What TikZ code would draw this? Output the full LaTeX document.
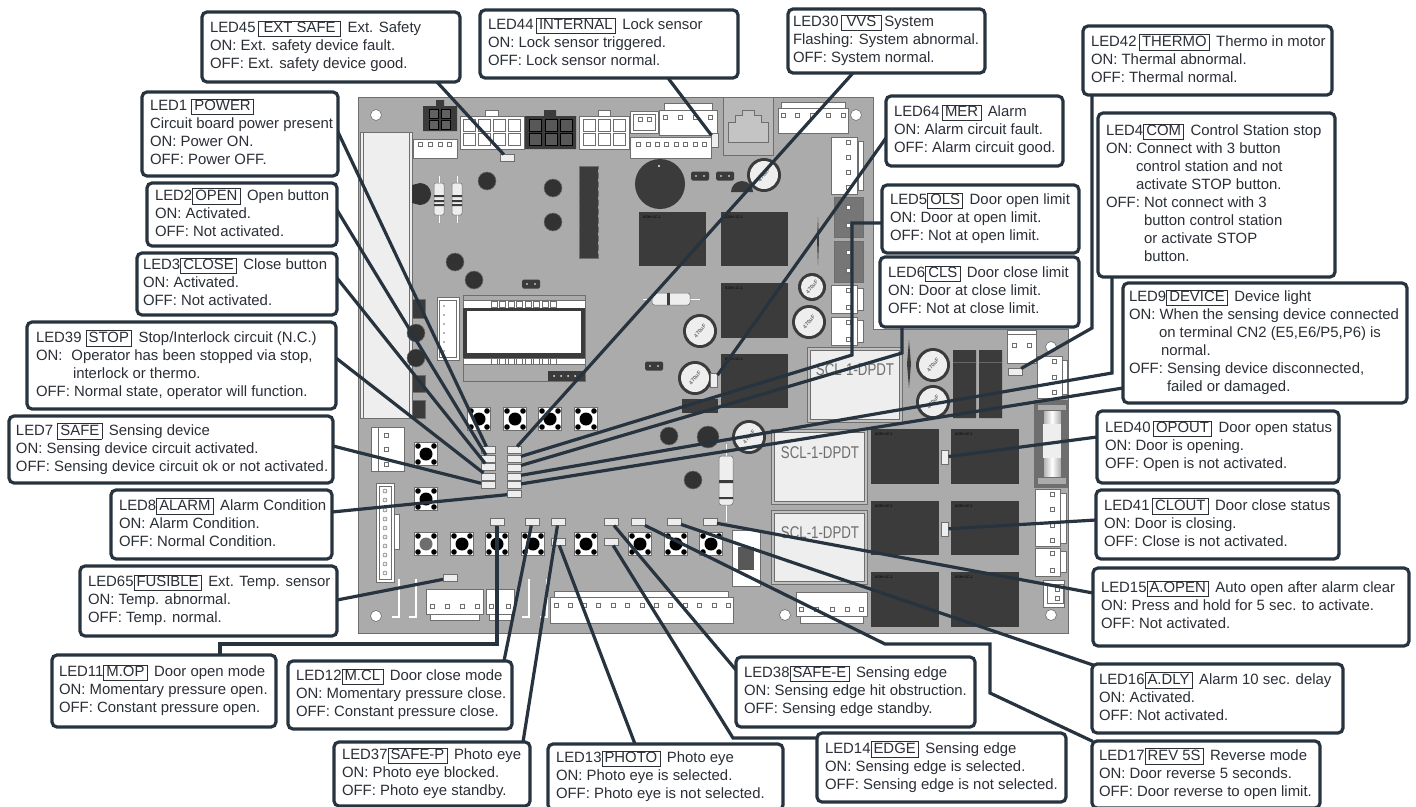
\documentclass[tikz,border=0pt]{standalone}
\usepackage{fontspec}
\setmainfont{Liberation Sans}
\definecolor{lead}{HTML}{27333F}
\definecolor{txt}{HTML}{2B2F36}
\definecolor{board}{HTML}{ABABAB}
\definecolor{dark}{HTML}{3B3B3B}
\definecolor{edge}{HTML}{6E6E6E}
\definecolor{pale}{HTML}{EEEEEE}
\newcommand{\tg}[1]{{\fboxsep=0pt\fboxrule=.6pt\smash{\fbox{\rule[-3.6pt]{0pt}{15pt}\hspace{2.4pt}#1\hspace{2.4pt}}}}}
\newcommand{\callout}[7][8]{%
  \pgfmathsetmacro{\cw}{#5-#3}\pgfmathsetmacro{\ch}{#6-#4}\pgfmathsetmacro{\tw}{#5-#3-2*#1}%
  \node[callbox,minimum width=\cw pt,minimum height=\ch pt,inner xsep=#1 pt,anchor=north west] (#2) at (#3,#4)
    {\makebox[\tw pt][l]{\begin{tabular}{@{}l@{}}#7\end{tabular}}};}
\newcommand{\boxr}[5][white]{\path[draw=edge,line width=.6pt,fill=#1] (#2,#3) rectangle (#4,#5);}
\newcommand{\pin}[2]{\path[draw=edge,line width=.6pt,fill=white] (#1-1.8,#2-1.8) rectangle (#1+1.8,#2+1.8);}
\newcommand{\relay}[4]{\path[fill=dark] (#1,#2) rectangle (#3,#4); \node[font=\fontsize{3.6}{4}\selectfont,text=black,anchor=north west,inner sep=0pt] at (#1+4,#2+4) {833H-1C-1};}
\newcommand{\btn}[3][black]{\path[draw=edge,line width=.6pt,fill=white] (#2-11.5,#3-11.5) rectangle (#2+11.5,#3+11.5);
  \fill[#1] (#2,#3) circle (6.5); \fill[black] (#2-8,#3-8) circle (2.8) (#2+8,#3-8) circle (2.8) (#2-8,#3+8) circle (2.8) (#2+8,#3+8) circle (2.8);}
\newcommand{\cpt}[3]{\path[fill=dark] (#1,#2) circle (#3); \path[fill=pale] (#1,#2) circle (#3-3); \node[rotate=50,font=\bfseries\fontsize{5.5}{6}\selectfont,text=edge,inner sep=0pt] at (#1,#2) {470uF};}
\newcommand{\ind}[3]{\path[draw=edge,line width=.5pt,fill=dark!85!black] (#1,#2) circle (#3);}
\newcommand{\jump}[2]{\path[fill=dark,rounded corners=1.5pt] (#1-9,#2-4.5) rectangle (#1+9,#2+4.5); \fill[white] (#1-4,#2) circle (.8) (#1+4,#2) circle (.8);}
\newcommand{\hole}[2]{\path[draw=edge,line width=.6pt,fill=white] (#1,#2) circle (5.5);}
\newcommand{\resv}[3]{\path[draw=edge!60,fill=white,line width=.4pt] (#1-.8,#2) rectangle (#1+.8,#3);
  \path[draw=edge,fill=pale,line width=.5pt,rounded corners=2pt] (#1-5,#2+8) rectangle (#1+5,#3-8);
  \fill[dark] (#1-5,#2+20) rectangle (#1+5,#2+22) (#1-5,#2+25) rectangle (#1+5,#2+27) (#1-5,#2+29) rectangle (#1+5,#2+31);}
\tikzset{
  callbox/.style={draw=lead,line width=3.2pt,rounded corners=5pt,fill=white,text=txt,inner ysep=0pt,outer sep=0pt,
    font=\fontsize{14.9}{18}\selectfont},
  leadline/.style={draw=lead,line width=3.2pt,line join=miter,shorten <=-1pt},
  ledh/.style={draw=edge,line width=.8pt,fill=pale,minimum width=14pt,minimum height=7pt,inner sep=0pt,outer sep=0pt},
  ledv/.style={draw=edge,line width=.8pt,fill=pale,minimum width=7pt,minimum height=14pt,inner sep=0pt,outer sep=0pt},
  scltext/.style={font=\fontsize{17}{18}\selectfont,text=edge,inner sep=0pt,xscale=.78},
}
\begin{document}
\begin{tikzpicture}[x=1pt,y=-1pt]
\useasboundingbox (0,0) rectangle (1416,806);
\clip (0,0) rectangle (1416,806);
% ---------- board
\path[fill=board,draw=edge,line width=.8pt] (358,97) -- (873,97) -- (873,329) -- (1068,329) -- (1068,633) -- (358,633) -- cycle;
\hole{376}{115}\hole{856}{115}\hole{376}{616}\hole{785}{615}\hole{1051}{615}\hole{1051}{347}
% heatsink strip
\boxr[pale]{360}{132}{412}{418}
\draw[edge,line width=.4pt] (363,132) -- (363,418) (409,132) -- (409,418);
% top connectors
\path[fill=dark] (423,106) rectangle (457,131) (436,100) rectangle (444,106);
\foreach \x in {429,441} \foreach \y in {109,120} {\path[draw=black,fill=dark!80,line width=.4pt] (\x,\y) rectangle (\x+9,\y+9);}
\boxr{460}{116}{524}{149}
\foreach \x in {463,478,493,508} \foreach \y in {119,133} {\boxr{\x}{\y}{\x+12}{\y+12}}
\boxr{485}{110}{498}{116}
\path[fill=dark] (525,116) rectangle (576,149) (544,110) rectangle (556,116);
\foreach \x in {529,545,560} \foreach \y in {119,133} {\path[draw=black,fill=dark!85,line width=.4pt] (\x,\y) rectangle (\x+12,\y+12);}
\boxr{579}{116}{629}{149}
\foreach \x in {583,598,613} \foreach \y in {119,133} {\boxr{\x}{\y}{\x+12}{\y+12}}
\boxr{598}{110}{610}{116}
\boxr{630}{111}{658}{133}\boxr{633}{114}{655}{130}\pin{640}{119}\pin{649}{119}
\boxr{664}{103}{712}{110}
\boxr{659}{110}{717}{135}\foreach \x in {665,680,695,710} {\pin{\x}{117}}
\boxr{630}{137}{711}{158}\foreach \x in {638,648,657,666,676,685,695,704} {\pin{\x}{144}}
\boxr[board!85]{723}{97}{773}{155}
\path[draw=edge,line width=.7pt,fill=board!70] (728,142) -- (728,122) -- (735,122) -- (735,115) -- (742,115) -- (742,110) -- (754,110) -- (754,115) -- (761,115) -- (761,122) -- (768,122) -- (768,142) -- cycle;
\boxr{781}{102}{845}{108}
\boxr{778}{108}{848}{133}\foreach \x in {783,797,812,828,843} {\pin{\x}{115}}
\boxr{858}{141}{863}{190}\boxr{831}{137}{857}{194}\foreach \y in {142,157,172,187} {\pin{848}{\y}}
\boxr[dark!70]{834}{197}{863}{237}\boxr[dark!70]{834}{241}{863}{282}
\foreach \y in {207,225,252,270} {\pin{848}{\y}}
\boxr{857}{288}{863}{310}\boxr{831}{285}{857}{313}\pin{848}{290}\pin{848}{307}
\boxr{857}{320}{863}{342}\boxr{831}{317}{857}{345}\pin{848}{322}\pin{848}{339}
\boxr{413}{139}{457}{158}\foreach \x in {420,430,440,449} {\pin{\x}{144}}
% resistors, inductors, chips
\resv{439}{175}{223}\resv{457}{175}{223}
\path[draw=edge!60,fill=white,line width=.4pt] (642,298) rectangle (700,300);
\path[draw=edge,fill=pale,line width=.5pt,rounded corners=2.5pt] (652,293) rectangle (690,305);
\fill[dark] (667,293) rectangle (670,305);
\path[draw=edge!60,fill=white,line width=.4pt] (725,443) rectangle (727,522);
\path[draw=edge,fill=pale,line width=.5pt,rounded corners=2.5pt] (719,456) rectangle (733,505);
\fill[dark] (719,480) rectangle (733,483) (719,497) rectangle (733,499);
\ind{487}{181}{9}\ind{553}{188}{9}\ind{553}{222}{9}\ind{455}{262}{9}\ind{474}{280}{9}
\ind{669}{436}{9}\ind{708}{437}{11}\ind{693}{480}{9}
\path[fill=dark!85!black] (412,185) -- (420,183) arc (-90:90:11) -- (412,203) -- cycle;
\ind{416}{333}{9}\ind{416}{358}{9}
\path[fill=dark,draw=edge,line width=.5pt] (579,166) rectangle (598,258);
\foreach \y in {171,180,189,198,207,216,225,234,243,252} {\fill[edge!60] (577,\y-1.5) rectangle (579,\y+1.5) (598,\y-1.5) rectangle (600,\y+1.5);}
\fill[dark] (660,184) circle (25);
\fill[pale] (659,166) circle (1.2);
\jump{700}{176}\jump{725}{176}\jump{531}{284}\jump{654}{366}
\path[fill=dark] (731,192) -- (753,192) arc (0:-180:11) -- cycle;
% relays
\relay{639}{212}{706}{266}\relay{721}{212}{788}{266}\relay{721}{283}{788}{338}\relay{721}{354}{788}{408}
\fill[dark] (682,399) rectangle (718,413);
\relay{871}{429}{939}{484}\relay{951}{429}{1019}{484}\relay{871}{501}{939}{555}\relay{951}{501}{1019}{555}\relay{871}{572}{939}{627}\relay{951}{572}{1019}{627}
\fill[dark] (953,350) rectangle (976,418) (979,350) rectangle (1002,418);
\draw[black!60,line width=.5pt] (953,362) -- (976,362) (979,362) -- (1002,362);
% SCL relays
\foreach \a/\b/\c/\d in {807/347/902/422,771/429/867/504,771/510/867/584} {\boxr[board!75]{\a}{\b}{\c}{\d}\boxr[pale]{\a+3}{\b+3}{\c-3}{\d-3}}
\node[scltext] at (855,370) {SCL-1-DPDT};
\node[scltext] at (820,453) {SCL-1-DPDT};
\node[scltext] at (820,533) {SCL-1-DPDT};
% capacitors
\cpt{764}{175}{17}\cpt{812}{287}{14}\cpt{809}{322}{17}\cpt{700}{331}{17}\cpt{695}{378}{17}\cpt{933}{365}{17}\cpt{933}{402}{17}\cpt{749}{437}{17}
\fill[dark] (818,217) -- (819,240) -- (818,265) -- (817,240) -- cycle;
\fill[dark] (909,340) -- (911,364) -- (909,388) -- (907,364) -- cycle;
% display
\boxr[board]{463}{295}{585}{381}
\boxr{463}{300}{585}{308}\foreach \x in {491,499.5,508,516.5,525,533.5,542,550.5} {\boxr{\x}{301}{\x+6}{307}}
\path[fill=dark] (463,308) rectangle (585,358);
\fill[white] (467,311) rectangle (581,353);
\boxr{463}{358}{585}{364}\foreach \x in {491,499.5,508,516.5,525,533.5,542,550.5} {\boxr{\x}{358}{\x+6}{364}}
\fill[dark] (548,371) rectangle (585,381);
\foreach \x in {554,561,568,575} {\fill[pale] (\x,376) circle (1);}
% left-hand pieces
\boxr{437}{297}{459}{360}\boxr{439}{300}{456}{357}\foreach \y in {306,315,324,333,342,351} {\fill[edge] (444,\y) circle (.9);}
\path[fill=dark,draw=edge,line width=.5pt] (412,299) rectangle (425,318) (412,375) rectangle (425,392) (412,400) rectangle (425,418);
\boxr{371}{427}{378}{471}\boxr{378}{427}{404}{471}\pin{386}{435}\pin{386}{449}\pin{386}{464}
\boxr{376}{483}{394}{582}\boxr{379}{486}{391}{579}\foreach \y in {491,500,510,519,528,537,546,555,564,573} {\path[draw=edge,line width=.5pt,fill=pale] (385,\y) circle (2);}
\boxr{394}{514}{399}{549}
% buttons
\foreach \x in {479,515,550,586} {\btn{\x}{419}}
\btn{426}{454}\btn{426}{499}
\btn[edge]{426}{544}
\foreach \x in {462,497,533,586,640,676,711} {\btn{\x}{544}}
% bottom connectors
\boxr{426}{589}{483}{614}\boxr{430}{614}{479}{620}\foreach \x in {432,447,462,477} {\pin{\x}{606}}
\boxr{486}{589}{514}{614}\boxr{489}{614}{511}{620}\pin{491}{606}\pin{508}{606}
\boxr{554}{591}{728}{597}
\boxr{550}{597}{733}{623}\foreach \x in {556,570,584,598,613,627,642,656,670,685,699,714,728} {\pin{\x}{605}}
\boxr{800}{616}{863}{623}\boxr{796}{592}{867}{616}\foreach \x in {801,816,832,847,861} {\pin{\x}{609}}
\foreach \x/\y in {400/580,417/580,530/580,548/580} {\draw[white,line width=1.8pt] (\x,\y) -- (\x-1,\y) -- (\x-1,617) -- (\x-8,617);}
% right-hand pieces
\boxr{732}{530}{760}{586}\fill[dark!85] (738,547) rectangle (754,570);
\boxr{1007}{330}{1036}{363}\boxr{1007}{330}{1036}{334}\pin{1014}{345}\pin{1029}{345}
\boxr{1037}{356}{1062}{398}\boxr{1062}{360}{1067}{394}\pin{1054}{361}\pin{1054}{377}\pin{1054}{392}
\boxr[edge]{1034}{400}{1068}{487}
\path[draw=edge,line width=.5pt,left color=board,right color=board,middle color=white] (1043,405) rectangle (1061,480);
\fill[pale] (1043,424) rectangle (1061,458);
\boxr[board]{1037}{404}{1066}{410}\boxr[board]{1037}{477}{1066}{484}
\boxr{1060}{493}{1066}{543}\boxr{1035}{489}{1060}{546}\foreach \y in {494,509,525,540} {\pin{1052}{\y}}
\boxr{1060}{551}{1066}{572}\boxr{1035}{548}{1060}{576}\pin{1052}{553}\pin{1052}{570}
\boxr{1043}{580}{1064}{607}\boxr{1047}{584}{1063}{603}\pin{1057}{589}\pin{1057}{598}
% ---------- LEDs
\node[ledh] (l45) at (507,158) {};
\node[ledv] (l44) at (715,140) {};
\node[ledv] (l64) at (714,380) {};
\node[ledh] (l42) at (1015,372) {};
\node[ledv] (l40) at (945,457) {};
\node[ledv] (l41) at (945,529) {};
\node[ledh] (l1) at (488,450) {};
\node[ledh] (l2) at (488,458.5) {};
\node[ledh] (l3) at (488,467) {};
\node[ledh] (l39) at (488,476.5) {};
\node[ledh] (l7) at (488,485) {};
\node[ledh] (l30) at (514,450) {};
\node[ledh] (l5) at (514,458.5) {};
\node[ledh] (l6) at (514,467.5) {};
\node[ledh] (l4) at (514,476.5) {};
\node[ledh] (l9) at (514,485) {};
\node[ledh] (l8) at (514,494) {};
\node[ledh] (l11) at (497,522) {};
\node[ledh] (l12) at (532,522) {};
\node[ledh] (l37) at (558,522) {};
\node[ledh] (l13) at (558,542) {};
\node[ledh] (l38) at (611,522) {};
\node[ledh] (l14) at (611,542) {};
\node[ledh] (l17) at (638,522) {};
\node[ledh] (l16) at (674,522) {};
\node[ledh] (l15) at (710,522) {};
\node[ledh] (l65) at (450,578) {};
% ---------- connector start points
\foreach \n/\p in {c45/{437,82},c44/{668,78},c30/{853,73},c64/{886,138},c5/{882,223},c6/{902,327},c4/{1112,277},c9/{1123,388},c42/{1092,95},
  c1/{338,132},c2/{337,210},c3/{337,278},c39/{336,358},c7/{333,446},c8/{332,512},c65/{337,600},c11/{220,655},c12/{504,661},c37/{523,742},c13/{635,744},
  c14/{817,738},c38/{736,670},c17/{1092,741},c16/{1093,665},c15/{1093,593},c40/{1097,437},c41/{1096,520},
  k5a/{852,223},k5b/{852,355},k6/{902,353},k4/{1112,373},k42/{1092,328},k11a/{220,644},k11b/{497,644},k14/{733,738},k17a/{990,693},k17b/{990,644},k17c/{885,644}}
  {\coordinate (\n) at (\p);}
% ---------- connectors
\foreach \a/\b in {c45/l45,c44/l44,c30/l30,c64/l64,c9/l9,c1/l1,c2/l2,c3/l3,c39/l39,c7/l7,c8/l8,c65/l65,c12/l12,c37/l37,c13/l13,c38/l38,c16/l16,c15/l15,c40/l40,c41/l41}
  {\draw[leadline] (\a) -- (\b);}
\draw[leadline] (c5) -- (k5a) -- (k5b) -- (l5);
\draw[leadline] (c6) -- (k6) -- (l6);
\draw[leadline] (c4) -- (k4) -- (l4);
\draw[leadline] (c42) -- (k42) -- (l42);
\draw[leadline] (c11) -- (k11a) -- (k11b) -- (l11);
\draw[leadline] (c14) -- (k14) -- (l14);
\draw[leadline] (c17) -- (k17a) -- (k17b) -- (k17c) -- (l17);
% ---------- callouts
\callout{b45}{202}{12}{460}{82}{LED45\,\tg{\,EXT SAFE\,}\, Ext. Safety\\ON: Ext. safety device fault.\\OFF: Ext. safety device good.}
\callout{b44}{480}{10}{738}{78}{LED44\,\tg{INTERNAL}\, Lock sensor\\ON: Lock sensor triggered.\\OFF: Lock sensor normal.}
\callout[5]{b30}{788}{9}{985}{73}{LED30\,\tg{\,VVS\,}\,System\\Flashing: System abnormal.\\OFF: System normal.}
\callout{b42}{1083}{26}{1332}{95}{LED42\,\tg{THERMO}\, Thermo in motor\\ON: Thermal abnormal.\\OFF: Thermal normal.}
\callout{b64}{886}{96}{1063}{166}{LED64\,\tg{MER}\, Alarm\\ON: Alarm circuit fault.\\OFF: Alarm circuit good.}
\callout{b4}{1098}{113}{1335}{277}{LED4\tg{COM}\, Control Station stop\\ON: Connect with 3 button\\\hspace*{30pt}control station and not\\\hspace*{30pt}activate STOP button.\\OFF: Not connect with 3\\\hspace*{38pt}button control station\\\hspace*{38pt}or activate STOP\\\hspace*{38pt}button.}
\callout{b5}{882}{185}{1079}{253}{LED5\tg{OLS}\, Door open limit\\ON: Door at open limit.\\OFF: Not at open limit.}
\callout{b6}{880}{257}{1079}{327}{LED6\tg{CLS}\, Door close limit\\ON: Door at close limit.\\OFF: Not at close limit.}
\callout[6]{b9}{1123}{283}{1407}{403}{LED9\tg{DEVICE}\, Device light\\ON: When the sensing device connected\\\hspace*{30pt}on terminal CN2 (E5,E6/P5,P6) is\\\hspace*{32pt}normal.\\OFF: Sensing device disconnected,\\\hspace*{38pt}failed or damaged.}
\callout{b40}{1097}{411}{1339}{483}{LED40\,\tg{OPOUT}\, Door open status\\ON: Door is opening.\\OFF: Open is not activated.}
\callout{b41}{1096}{490}{1339}{559}{LED41\,\tg{CLOUT}\, Door close status\\ON: Door is closing.\\OFF: Close is not activated.}
\callout{b15}{1093}{568}{1409}{646}{LED15\tg{A.OPEN}\, Auto open after alarm clear\\ON: Press and hold for 5 sec. to activate.\\OFF: Not activated.}
\callout[7]{b16}{1092}{664}{1343}{733}{LED16\tg{A.DLY}\, Alarm 10 sec. delay\\ON: Activated.\\OFF: Not activated.}
\callout[7]{b17}{1092}{741}{1320}{808}{LED17\tg{REV 5S}\, Reverse mode\\ON: Door reverse 5 seconds.\\OFF: Door reverse to open limit.}
\callout{b1}{142}{92}{338}{176}{LED1 \tg{POWER}\\Circuit board power present\\ON: Power ON.\\OFF: Power OFF.}
\callout{b2}{147}{183}{337}{246}{LED2\tg{OPEN}\, Open button\\ON: Activated.\\OFF: Not activated.}
\callout[6]{b3}{137}{253}{337}{315}{LED3\tg{CLOSE}\, Close button\\ON: Activated.\\OFF: Not activated.}
\callout[9]{b39}{27}{322}{336}{409}{LED39 \tg{STOP}\, Stop/Interlock circuit (N.C.)\\ON:\hspace{9pt}Operator has been stopped via stop,\\\hspace*{37pt}interlock or thermo.\\OFF: Normal state, operator will function.}
\callout[7]{b7}{9}{416}{333}{483}{LED7 \tg{SAFE}\, Sensing device\\ON: Sensing device circuit activated.\\OFF: Sensing device circuit ok or not activated.}
\callout{b8}{111}{490}{332}{559}{LED8\tg{ALARM}\, Alarm Condition\\ON: Alarm Condition.\\OFF: Normal Condition.}
\callout{b65}{80}{566}{337}{636}{LED65\tg{FUSIBLE}\, Ext. Temp. sensor\\ON: Temp. abnormal.\\OFF: Temp. normal.}
\callout[7]{b11}{52}{655}{276}{727}{LED11\tg{M.OP}\, Door open mode\\ON: Momentary pressure open.\\OFF: Constant pressure open.}
\callout[8]{b12}{288}{661}{512}{729}{LED12\tg{M.CL}\, Door close mode\\ON: Momentary pressure close.\\OFF: Constant pressure close.}
\callout{b37}{334}{742}{530}{806}{LED37\tg{SAFE-P}\, Photo eye\\ON: Photo eye blocked.\\OFF: Photo eye standby.}
\callout{b13}{548}{744}{783}{810}{LED13\tg{PHOTO}\, Photo eye\\ON: Photo eye is selected.\\OFF: Photo eye is not selected.}
\callout{b38}{736}{657}{975}{727}{LED38\tg{SAFE-E}\, Sensing edge\\ON: Sensing edge hit obstruction.\\OFF: Sensing edge standby.}
\callout{b14}{817}{733}{1066}{802}{LED14\tg{EDGE}\, Sensing edge\\ON: Sensing edge is selected.\\OFF: Sensing edge is not selected.}
\end{tikzpicture}
\end{document}
